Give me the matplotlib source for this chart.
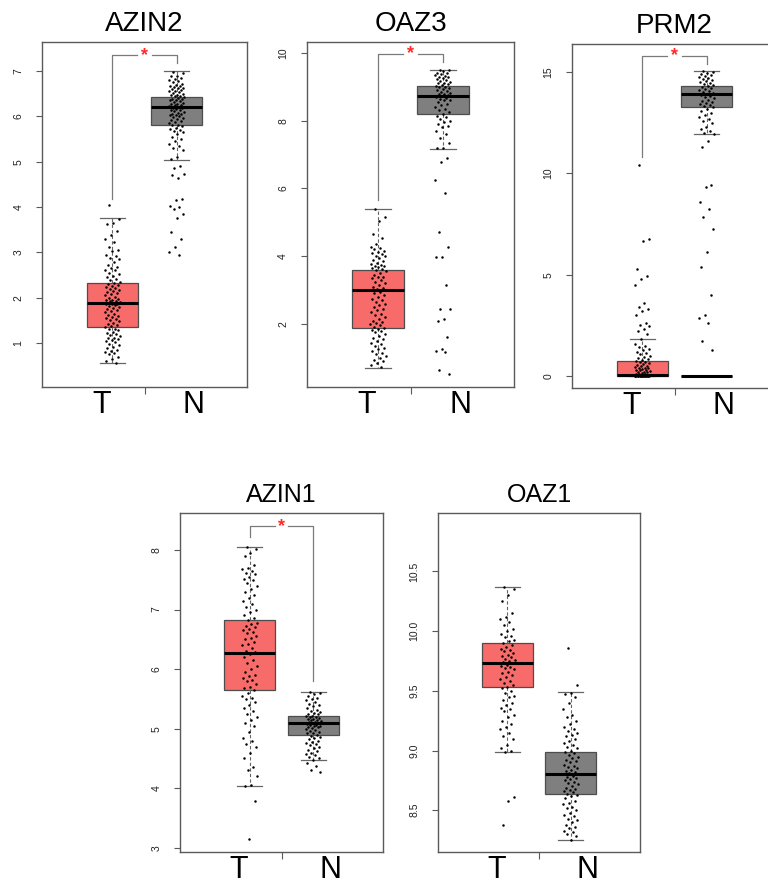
import numpy as np
import matplotlib
matplotlib.use('Agg')
import matplotlib.pyplot as plt

plt.rcParams['font.family'] = ['Liberation Sans', 'DejaVu Sans']

genes = ['AZIN2', 'OAZ3', 'PRM2', 'AZIN1', 'OAZ1']
groups = ['T', 'N']

# box statistics: (low whisker, Q1, median, Q3, high whisker)
box_t = {
    'AZIN2': (0.55, 1.35, 1.88, 2.33, 3.75),
    'OAZ3': (0.70, 1.87, 3.00, 3.60, 5.40),
    'PRM2': (0.00, 0.00, 0.03, 0.75, 1.85),
    'AZIN1': (4.03, 5.65, 6.27, 6.83, 8.05),
    'OAZ1': (8.99, 9.53, 9.73, 9.90, 10.37),
}
box_n = {
    'AZIN2': (5.03, 5.82, 6.20, 6.42, 7.00),
    'OAZ3': (7.17, 8.20, 8.72, 9.02, 9.50),
    'PRM2': (11.95, 13.30, 13.90, 14.30, 15.05),
    'AZIN1': (4.47, 4.90, 5.10, 5.22, 5.62),
    'OAZ1': (8.25, 8.64, 8.80, 8.99, 9.49),
}

# individual samples (estimated from the dots)
pts_t = {
    'AZIN2': [4.05, 3.74, 3.65, 3.62, 3.48, 3.38, 3.3, 3.22, 3.12, 3.05, 3.02, 2.95, 2.92,
              2.88, 2.85, 2.78, 2.72, 2.68, 2.65, 2.62, 2.6, 2.55, 2.52, 2.48, 2.45, 2.42,
              2.38, 2.35, 2.33, 2.3, 2.28, 2.26, 2.24, 2.22, 2.2, 2.18, 2.15, 2.12, 2.1,
              2.08, 2.05, 2.02, 2.0, 1.98, 1.96, 1.95, 1.93, 1.92, 1.9, 1.89, 1.88, 1.87,
              1.86, 1.85, 1.83, 1.82, 1.8, 1.78, 1.75, 1.72, 1.7, 1.68, 1.65, 1.62, 1.6,
              1.58, 1.55, 1.52, 1.5, 1.48, 1.45, 1.42, 1.4, 1.38, 1.35, 1.32, 1.3, 1.28,
              1.25, 1.22, 1.2, 1.18, 1.15, 1.12, 1.1, 1.08, 1.06, 1.05, 1.02, 0.98, 0.95,
              0.92, 0.88, 0.85, 0.82, 0.8, 0.78, 0.75, 0.7, 0.65, 0.6, 0.56],
    'OAZ3': [5.4, 5.15, 5.05, 4.65, 4.55, 4.35, 4.28, 4.25, 4.2, 4.15, 4.12, 4.1, 4.05, 4.02,
             4.0, 3.95, 3.9, 3.85, 3.8, 3.78, 3.75, 3.72, 3.7, 3.68, 3.65, 3.62, 3.6, 3.55,
             3.5, 3.45, 3.4, 3.38, 3.35, 3.3, 3.25, 3.2, 3.15, 3.1, 3.05, 3.02, 3.0, 2.95,
             2.9, 2.85, 2.8, 2.75, 2.7, 2.65, 2.6, 2.55, 2.5, 2.45, 2.4, 2.35, 2.3, 2.25,
             2.2, 2.15, 2.1, 2.05, 2.02, 2.0, 1.96, 1.92, 1.88, 1.85, 1.82, 1.8, 1.75, 1.7,
             1.65, 1.6, 1.55, 1.5, 1.45, 1.4, 1.35, 1.3, 1.25, 1.2, 1.15, 1.1, 1.05, 1.0,
             0.95, 0.9, 0.85, 0.8, 0.72],
    'PRM2': [10.4, 6.75, 6.65, 5.3, 4.95, 4.8, 4.5, 3.6, 3.4, 3.3, 3.2, 3.0, 2.6, 2.5, 2.45,
             2.3, 2.2, 2.1, 1.85, 1.6, 1.5, 1.45, 1.35, 1.3, 1.2, 1.15, 1.1, 1.0, 0.95, 0.9,
             0.85, 0.8, 0.75, 0.7, 0.68, 0.65, 0.6, 0.55, 0.5, 0.48, 0.45, 0.42, 0.4, 0.38,
             0.35, 0.32, 0.3, 0.28, 0.25, 0.22, 0.2, 0.18, 0.15, 0.12, 0.1, 0.08, 0.06,
             0.05, 0.04, 0.03, 0.02, 0.02, 0.01, 0.01, 0.0, 0.0, 0.0, 0.0, 0.0, 0.0, 0.0,
             0.0, 0.0, 0.0, 0.0, 0.0],
    'AZIN1': [8.05, 8.02, 7.95, 7.9, 7.75, 7.7, 7.68, 7.65, 7.62, 7.6, 7.55, 7.52, 7.5,
              7.45, 7.4, 7.35, 7.3, 7.25, 7.2, 7.15, 7.1, 7.05, 7.0, 6.95, 6.9, 6.85, 6.82,
              6.78, 6.75, 6.72, 6.7, 6.68, 6.65, 6.62, 6.6, 6.55, 6.52, 6.5, 6.45, 6.42,
              6.4, 6.35, 6.3, 6.28, 6.25, 6.2, 6.15, 6.1, 6.05, 6.0, 5.95, 5.9, 5.88, 5.85,
              5.82, 5.8, 5.75, 5.7, 5.68, 5.65, 5.6, 5.55, 5.52, 5.5, 5.45, 5.4, 5.35, 5.3,
              5.25, 5.2, 5.15, 5.1, 5.05, 4.95, 4.85, 4.8, 4.75, 4.7, 4.6, 4.5, 4.35, 4.3,
              4.2, 4.05, 4.03, 3.78, 3.15],
    'OAZ1': [10.37, 10.35, 10.3, 10.25, 10.15, 10.12, 10.1, 10.08, 10.05, 10.02, 10.0,
             9.98, 9.96, 9.95, 9.93, 9.92, 9.9, 9.88, 9.87, 9.85, 9.84, 9.83, 9.82, 9.8,
             9.79, 9.78, 9.77, 9.76, 9.75, 9.74, 9.73, 9.72, 9.71, 9.7, 9.69, 9.68, 9.66,
             9.65, 9.63, 9.62, 9.6, 9.58, 9.57, 9.55, 9.53, 9.52, 9.5, 9.48, 9.46, 9.45,
             9.42, 9.4, 9.38, 9.36, 9.35, 9.33, 9.3, 9.28, 9.25, 9.22, 9.2, 9.18, 9.15,
             9.12, 9.1, 9.05, 9.02, 9.0, 8.99, 8.61, 8.58, 8.38],
}
pts_n = {
    'AZIN2': [6.98, 6.95, 6.9, 6.88, 6.85, 6.82, 6.8, 6.78, 6.75, 6.72, 6.7, 6.68, 6.66,
              6.65, 6.63, 6.62, 6.6, 6.58, 6.57, 6.55, 6.53, 6.52, 6.5, 6.48, 6.47, 6.45,
              6.44, 6.42, 6.4, 6.39, 6.38, 6.36, 6.35, 6.33, 6.32, 6.3, 6.28, 6.27, 6.25,
              6.24, 6.22, 6.2, 6.19, 6.18, 6.16, 6.15, 6.13, 6.12, 6.1, 6.08, 6.06, 6.05,
              6.03, 6.02, 6.0, 5.98, 5.96, 5.95, 5.92, 5.9, 5.88, 5.85, 5.82, 5.8, 5.78,
              5.75, 5.72, 5.7, 5.68, 5.65, 5.6, 5.55, 5.5, 5.45, 5.4, 5.35, 5.3, 5.25, 5.1,
              5.05, 4.9, 4.85, 4.72, 4.65, 4.7, 4.18, 4.15, 4.03, 4.0, 3.95, 3.85, 3.75,
              3.45, 3.3, 3.12, 3.0, 2.95],
    'OAZ3': [9.5, 9.48, 9.45, 9.42, 9.4, 9.38, 9.35, 9.33, 9.3, 9.28, 9.25, 9.22, 9.2, 9.18,
             9.15, 9.12, 9.1, 9.08, 9.05, 9.02, 9.0, 8.98, 8.95, 8.92, 8.9, 8.88, 8.85,
             8.82, 8.8, 8.78, 8.75, 8.72, 8.7, 8.68, 8.65, 8.62, 8.6, 8.55, 8.5, 8.45, 8.4,
             8.35, 8.3, 8.25, 8.2, 8.15, 8.1, 8.05, 8.0, 7.95, 7.9, 7.85, 7.8, 7.7, 7.6,
             7.5, 7.35, 7.2, 7.18, 6.9, 6.78, 6.25, 5.87, 4.7, 4.27, 3.98, 3.97, 3.15,
             2.45, 2.43, 2.15, 2.08, 1.62, 1.25, 1.2, 1.18, 0.65, 0.52],
    'PRM2': [15.05, 15.0, 14.95, 14.9, 14.85, 14.8, 14.75, 14.7, 14.65, 14.6, 14.55, 14.5,
             14.45, 14.4, 14.35, 14.3, 14.25, 14.2, 14.15, 14.1, 14.05, 14.0, 13.95, 13.9,
             13.85, 13.8, 13.75, 13.7, 13.65, 13.6, 13.55, 13.5, 13.45, 13.4, 13.35, 13.3,
             13.2, 13.1, 13.0, 12.9, 12.8, 12.7, 12.6, 12.5, 12.3, 12.2, 12.1, 12.0, 11.95,
             11.6, 11.3, 9.45, 9.35, 8.6, 8.25, 7.85, 7.25, 6.1, 5.4, 4.0, 3.0, 2.85, 2.6,
             1.75, 1.3, 0.0, 0.0],
    'AZIN1': [5.62, 5.6, 5.58, 5.55, 5.52, 5.5, 5.48, 5.45, 5.42, 5.4, 5.38, 5.35, 5.32,
              5.3, 5.28, 5.26, 5.25, 5.24, 5.22, 5.21, 5.2, 5.19, 5.18, 5.17, 5.16, 5.15,
              5.14, 5.13, 5.12, 5.11, 5.1, 5.09, 5.08, 5.07, 5.06, 5.05, 5.04, 5.03, 5.02,
              5.01, 5.0, 4.98, 4.96, 4.95, 4.93, 4.92, 4.9, 4.88, 4.86, 4.84, 4.82, 4.8,
              4.78, 4.76, 4.74, 4.72, 4.7, 4.68, 4.65, 4.62, 4.6, 4.58, 4.55, 4.52, 4.5,
              4.48, 4.42, 4.38, 4.3, 4.27],
    'OAZ1': [9.86, 9.55, 9.48, 9.47, 9.45, 9.4, 9.35, 9.3, 9.28, 9.25, 9.22, 9.2, 9.18,
             9.16, 9.15, 9.13, 9.12, 9.1, 9.08, 9.06, 9.05, 9.03, 9.02, 9.0, 8.99, 8.98,
             8.96, 8.95, 8.94, 8.92, 8.91, 8.9, 8.88, 8.87, 8.86, 8.85, 8.84, 8.83, 8.82,
             8.81, 8.8, 8.79, 8.78, 8.77, 8.76, 8.75, 8.74, 8.73, 8.72, 8.7, 8.69, 8.68,
             8.67, 8.66, 8.65, 8.64, 8.63, 8.62, 8.6, 8.58, 8.56, 8.55, 8.53, 8.52, 8.5,
             8.48, 8.46, 8.45, 8.43, 8.42, 8.4, 8.38, 8.36, 8.35, 8.33, 8.32, 8.3, 8.28,
             8.25],
}

y_limits = {
    'AZIN2': (0.03, 7.64),
    'OAZ3': (0.14, 10.32),
    'PRM2': (-0.59, 16.39),
    'AZIN1': (2.93, 8.62),
    'OAZ1': (8.15, 10.99),
}
y_ticks = {
    'AZIN2': [1, 2, 3, 4, 5, 6, 7],
    'OAZ3': [2, 4, 6, 8, 10],
    'PRM2': [0, 5, 10, 15],
    'AZIN1': [3, 4, 5, 6, 7, 8],
    'OAZ1': [8.5, 9.0, 9.5, 10.0, 10.5],
}
# significance bracket: (top, T end, N end); None = not significant
brackets = {
    'AZIN2': (7.35, 4.17, 7.18),
    'OAZ3': (9.97, 5.66, 9.74),
    'PRM2': (15.8, 10.8, 15.4),
    'AZIN1': (8.4, 8.22, 5.8),
    'OAZ1': None,
}

# axes rectangles in pixels: left, top, right, bottom
W, H = 768, 888
rects = {
    'AZIN2': (42, 42, 247, 387),
    'OAZ3': (307, 42, 514, 387),
    'PRM2': (572, 44, 777, 388),
    'AZIN1': (180, 513, 383, 852),
    'OAZ1': (438, 513, 640, 852),
}

RED = '#F76B6B'
GREY = '#7F7F7F'
FRAME = '#5A5A5A'


def jitter(n, half=0.12):
    k = np.arange(n)
    return ((k * 0.6180339887 + 0.3) % 1 - 0.5) * 2 * half


def stats(vals):
    lo, q1, med, q3, hi = vals
    return {'whislo': lo, 'q1': q1, 'med': med, 'q3': q3, 'whishi': hi, 'fliers': []}


def panel(fig, gene, small_title=False):
    l, t, r, b = rects[gene]
    ax = fig.add_axes([l / W, 1 - b / H, (r - l) / W, (b - t) / H])

    data = [stats(box_t[gene]), stats(box_n[gene])]
    if gene == 'PRM2':
        data.append(stats((0, 0, 0, 0, 0)))
    pos = [1, 2, 2][:len(data)]
    bp = ax.bxp(data, positions=pos, widths=0.8, patch_artist=True, showfliers=False,
                capwidths=0.4,
                medianprops=dict(color='black', linewidth=2.2),
                whiskerprops=dict(color='#666666', linewidth=0.8, linestyle=(0, (3, 2))),
                capprops=dict(color='#666666', linewidth=0.9),
                boxprops=dict(edgecolor='#4d4d4d', linewidth=0.9))
    colors = [RED, GREY, GREY]
    for patch, c in zip(bp['boxes'], colors):
        patch.set_facecolor(c)

    for x0, vals in [(1, pts_t[gene]), (2, pts_n[gene])]:
        v = np.array(vals)
        ax.scatter(x0 + jitter(len(v)), v, s=3.2, color='black', linewidths=0, zorder=5)

    br = brackets[gene]
    if br is not None:
        top, yt, yn = br
        lc = '#7a7a7a'
        ax.plot([1, 1, 1.39], [yt, top, top], color=lc, linewidth=0.9, zorder=6)
        ax.plot([1.61, 2, 2], [top, top, yn], color=lc, linewidth=0.9, zorder=6)
        ax.text(1.5, top, '*', color='#FF2A2A', fontsize=13, fontweight='bold',
                ha='center', va='center', zorder=7)

    ax.set_xlim(-0.1, 3.1)
    ax.set_ylim(*y_limits[gene])
    ax.set_xticks([1.5])
    ax.set_xticklabels([''])
    ax.set_yticks(y_ticks[gene])
    if gene == 'OAZ1':
        ax.set_yticklabels(['%.1f' % v for v in y_ticks[gene]])
    ax.tick_params(axis='y', length=4.5, width=0.8, color=FRAME, pad=9, labelsize=7.5,
                   labelcolor='#222222', labelrotation=90)
    for lab in ax.get_yticklabels():
        lab.set_va('center')
    ax.tick_params(axis='x', length=5, width=0.8, color=FRAME)
    for s in ax.spines.values():
        s.set_color(FRAME)
        s.set_linewidth(1.0)

    tr = ax.get_xaxis_transform()
    for xl, g in zip([0.83, 2.27], groups):
        ax.text(xl, -0.008, g, transform=tr, ha='center', va='top', fontsize=22)

    ax.set_title(gene, fontsize=18 if small_title else 20, pad=8)
    return ax


fig = plt.figure(figsize=(W / 100, H / 100), dpi=100)
for g in genes[:3]:
    panel(fig, g)
for g in genes[3:]:
    panel(fig, g, small_title=True)

fig.savefig('out.png', dpi=100)
